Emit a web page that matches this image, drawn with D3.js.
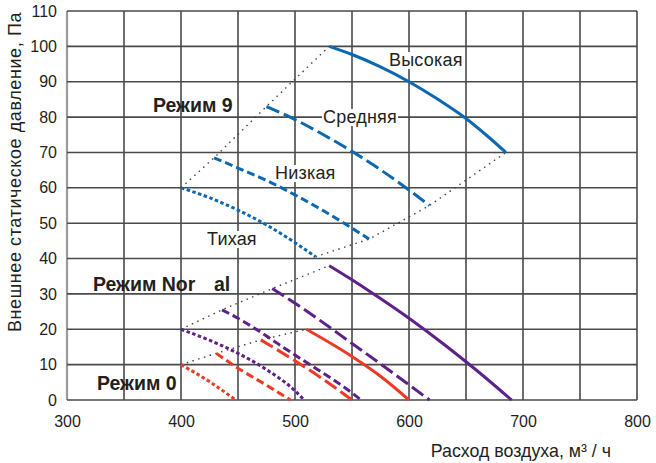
<!DOCTYPE html>
<html><head><meta charset="utf-8">
<script src="https://cdn.jsdelivr.net/npm/d3@7"></script>
<style>body{margin:0;background:#fff}svg{display:block}text{font-family:"Liberation Sans",Arial,sans-serif;fill:#231f20}</style>
</head><body><svg id="c" width="656" height="463"></svg>
<script>
// ---- data ----
const xTicks = [300, 400, 500, 600, 700, 800];
const yTicks = [0, 10, 20, 30, 40, 50, 60, 70, 80, 90, 100, 110];
const speeds = ["Высокая", "Средняя", "Низкая", "Тихая"];
const modes = ["Режим 9", "Режим Normal", "Режим 0"];
// [flow m3/h, pressure Pa]
const m9High = [[530,100],[550,97.7],[575,94.2],[600,90],[625,85.1],[650,79.6],[670,74.3],[685,70]];
const m9Mid  = [[475,83],[500,79.3],[525,75],[550,70.3],[575,65.1],[600,59.4],[618,55]];
const m9Low  = [[429,68.5],[450,65.6],[475,62.1],[500,58],[525,53.5],[550,48.6],[565,45.5]];
const m9Quiet= [[400,60],[425,57.2],[450,53.7],[475,49.5],[500,44.5],[518,40.5]];
const mnHigh = [[530,38],[550,34],[573,29.1],[600,23.1],[630,15.9],[660,8.2],[690,0]];
const mnMid  = [[480,31.5],[504,26.5],[550,16],[600,4.3],[618,0]];
const mnLow  = [[436,25.5],[450,23.1],[500,12.7],[550,2],[558,0]];
const mnQuiet= [[400,20],[425,16.9],[450,13.2],[475,8.6],[500,2.6],[508,0]];
const m0High = [[510,20],[550,12.3],[575,6.7],[600,0]];
const m0Mid  = [[470,17],[500,11.1],[525,5.8],[550,0]];
const m0Low  = [[431,13.2],[450,9],[475,4.2],[496,0]];
const m0Quiet= [[400,10],[425,5.2],[448,0]];

const groups = [
  {mode: modes[0], color: "#0b68b1", curves: [m9High, m9Mid, m9Low, m9Quiet], closeBottom: true},
  {mode: modes[1], color: "#5d2289", curves: [mnHigh, mnMid, mnLow, mnQuiet], closeBottom: false},
  {mode: modes[2], color: "#ee3a25", curves: [m0High, m0Mid, m0Low, m0Quiet], closeBottom: false}
];
const dashes = [null, "14,5", "8,4", "3.5,2.5"];

// ---- chart ----
const svg = d3.select("#c");
const x = d3.scaleLinear().domain([300, 800]).range([67, 637]);
const y = d3.scaleLinear().domain([0, 110]).range([400, 11]);

const grid = svg.append("g");
d3.range(300, 801, 50).forEach(v => {
  grid.append("line").attr("x1", x(v)).attr("x2", x(v)).attr("y1", y(0)).attr("y2", y(110))
    .attr("stroke", v === 300 ? "#9a9a9a" : "#4a4a4a").attr("stroke-width", v === 300 ? 2.2 : 1.6);
});
yTicks.forEach(v => {
  grid.append("line").attr("x1", x(300)).attr("x2", x(800)).attr("y1", y(v)).attr("y2", y(v))
    .attr("stroke", "#4a4a4a").attr("stroke-width", 1.6);
});

// axes (labels only)
const xa = svg.append("g").attr("transform", `translate(0,${y(0)})`)
  .call(d3.axisBottom(x).tickValues(xTicks).tickSize(0).tickPadding(16));
const ya = svg.append("g").attr("transform", `translate(${x(300)},0)`)
  .call(d3.axisLeft(y).tickValues(yTicks).tickSize(0).tickPadding(10));
[xa, ya].forEach(a => { a.select(".domain").remove(); a.selectAll("text").attr("font-size", 16).attr("fill", "#231f20").attr("font-family", "Liberation Sans, Arial, sans-serif"); });

const line = d3.line().x(d => x(d[0])).y(d => y(d[1])).curve(d3.curveMonotoneX);
const straight = d3.line().x(d => x(d[0])).y(d => y(d[1]));

// boundary dotted lines
groups.forEach(g => {
  const starts = g.curves.map(c => c[0]).reverse();
  svg.append("path").attr("d", straight(starts)).attr("fill", "none")
    .attr("stroke", "#444").attr("stroke-width", 1.4).attr("stroke-dasharray", "1.5,4.5");
  if (g.closeBottom) {
    const ends = g.curves.map(c => c[c.length - 1]).reverse();
    svg.append("path").attr("d", straight(ends)).attr("fill", "none")
      .attr("stroke", "#444").attr("stroke-width", 1.4).attr("stroke-dasharray", "1.5,4.5");
  }
});

groups.forEach(g => {
  g.curves.forEach((c, i) => {
    svg.append("path").attr("d", line(c)).attr("fill", "none").attr("stroke", g.color)
      .attr("stroke-width", 3).attr("stroke-dasharray", dashes[i]);
  });
});

// speed labels with white background
function boxLabel(txt, px, py) {
  const gg = svg.append("g");
  const t = gg.append("text").attr("x", px).attr("y", py).attr("font-size", 18).attr("letter-spacing", 0.2).text(txt);
  const b = t.node().getBBox();
  gg.insert("rect", "text").attr("x", b.x - 1).attr("y", b.y + 2).attr("width", b.width + 2).attr("height", b.height - 3).attr("fill", "#fff");
}
boxLabel(speeds[0], 389, 66);
boxLabel(speeds[1], 323, 123);
boxLabel(speeds[2], 275, 179);
boxLabel(speeds[3], 207, 245);

// mode labels
const bold = (txt, px, py) => svg.append("text").attr("x", px).attr("y", py).attr("font-size", 19.5).attr("font-weight", "bold").text(txt);
bold(modes[0], 153, 112);
bold("Режим Nor", 93, 291);
bold("al", 214, 291);
bold(modes[2], 97, 390);

// axis titles
svg.append("text").attr("x", 611).attr("y", 457).attr("text-anchor", "end").attr("font-size", 17.8).text("Расход воздуха, м³ / ч");
svg.append("text").attr("transform", "translate(21,172) rotate(-90)").attr("text-anchor", "middle").attr("font-size", 18).attr("letter-spacing", 0.6).text("Внешнее статическое давление, Па");
</script></body></html>
